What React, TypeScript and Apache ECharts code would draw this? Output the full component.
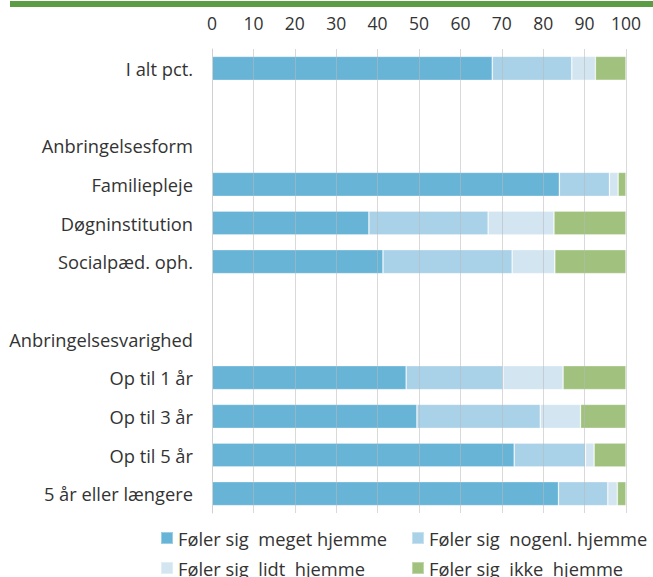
import React, { useEffect, useRef } from "react";
import * as echarts from "echarts";

const categories = [
  "I alt pct.",
  " ",
  "Anbringelsesform",
  "Familiepleje",
  "Døgninstitution",
  "Socialpæd. oph.",
  "  ",
  "Anbringelsesvarighed",
  "Op til 1 år",
  "Op til 3 år",
  "Op til 5 år",
  "5 år eller længere",
];

const seriesNames = [
  "Føler sig  meget hjemme",
  "Føler sig  nogenl. hjemme",
  "Føler sig  lidt  hjemme",
  "Føler sig  ikke  hjemme",
];

const meget = [67.7, null, null, 83.9, 37.9, 41.3, null, null, 46.9, 49.5, 73.0, 83.7];
const nogenl = [19.2, null, null, 12.1, 28.8, 31.2, null, null, 23.4, 29.8, 17.2, 11.9];
const lidt = [5.7, null, null, 2.1, 15.9, 10.3, null, null, 14.5, 9.7, 2.1, 2.3];
const ikke = [7.4, null, null, 1.9, 17.4, 17.2, null, null, 15.2, 11.0, 7.7, 2.1];

const colors = ["#67b4d7", "#a9d1e7", "#d2e5f1", "#a0c27e"];
const FONT = "Open Sans";
const legendPos = [
  { left: 160, top: 528 },
  { left: 411, top: 528 },
  { left: 160, top: 558 },
  { left: 411, top: 558 },
];

export default function App() {
  const ref = useRef<HTMLDivElement>(null);
  useEffect(() => {
    if (!ref.current) return;
    const chart = echarts.init(ref.current, null, { renderer: "svg" });
    const values = [meget, nogenl, lidt, ikke];
    chart.setOption({
      animation: false,
      textStyle: { fontFamily: FONT },
      grid: { left: 212, right: 27, top: 49, bottom: 64 },
      xAxis: {
        type: "value",
        position: "top",
        min: 0,
        max: 100,
        interval: 10,
        z: 5,
        axisLine: { show: false },
        axisTick: { show: false },
        axisLabel: { color: "#333333", fontSize: 17.5, fontFamily: FONT, margin: 17 },
        splitLine: { show: true, lineStyle: { color: "rgba(185,185,185,0.55)", width: 1 } },
      },
      yAxis: {
        type: "category",
        inverse: true,
        data: categories,
        z: 6,
        axisLine: { show: true, lineStyle: { color: "#d0d0d0", width: 1 } },
        axisTick: { show: false },
        axisLabel: { color: "#333333", fontSize: 18.3, fontFamily: FONT, margin: 19 },
      },
      legend: seriesNames.map((name, i) => ({
        orient: "horizontal",
        left: legendPos[i].left,
        top: legendPos[i].top,
        data: [name],
        itemWidth: 12,
        itemHeight: 12,
        itemGap: 6,
        padding: 0,
        icon: "rect",
        textStyle: { fontSize: 18.3, color: "#333333", fontFamily: FONT, lineHeight: 20 },
      })),
      graphic: [
        {
          type: "rect",
          shape: { x: 10, y: 1, width: 643, height: 6 },
          style: { fill: "#5b9c45" },
        },
      ],
      series: seriesNames.map((name, i) => ({
        name,
        type: "bar",
        stack: "total",
        barWidth: 24,
        data: values[i],
        itemStyle: { color: colors[i], borderColor: "rgba(255,255,255,0.35)", borderWidth: 0.8 },
        emphasis: { disabled: true },
      })),
    });
    return () => chart.dispose();
  }, []);
  return (
    <div
      ref={ref}
      style={{ position: "absolute", left: 0, top: 0, width: 653, height: 577 }}
    />
  );
}
